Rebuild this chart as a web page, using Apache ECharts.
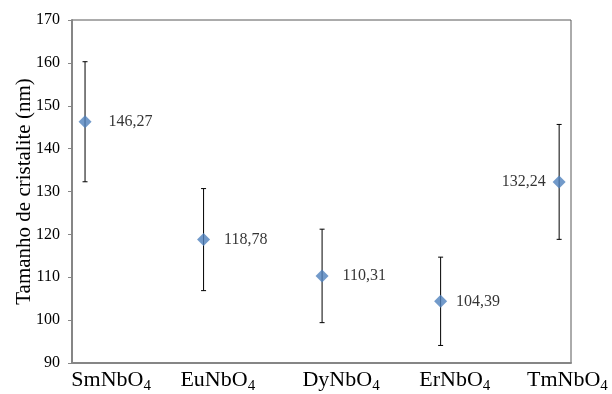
<!DOCTYPE html>
<html>
<head>
<meta charset="utf-8">
<script src="https://cdn.jsdelivr.net/npm/echarts@6/dist/echarts.min.js"></script>
<style>
  html, body { margin: 0; padding: 0; background: #fff; }
  #chart { width: 612px; height: 394px; }
</style>
</head>
<body>
<div id="chart"></div>
<script>
// Crystallite size per niobate sample, with error bar half-widths
const compounds = ['SmNbO', 'EuNbO', 'DyNbO', 'ErNbO', 'TmNbO'];
const crystalliteSize = [146.27, 118.78, 110.31, 104.39, 132.24];
const sizeError = [14.0, 11.9, 10.9, 10.3, 13.4];
const yTicks = [90, 100, 110, 120, 130, 140, 150, 160, 170];

const fontFamily = '"Liberation Serif", "Times New Roman", serif';
const positions = compounds.map((_, i) => i + 1);

// Horizontal nudge of each category caption (in category units)
const captionShift = [0.22, 0.12, 0.16, 0.12, 0.07];
const captionPositions = positions.map((p, i) => p + captionShift[i]);
// Gap between each marker and its value label (px); the last one sits on the left
const valueLabelGap = [17, 14, 14, 9, 7];

const pointData = crystalliteSize.map((v, i) => ({
  value: [positions[i], v],
  label: {
    position: i === compounds.length - 1 ? 'left' : 'right',
    distance: valueLabelGap[i]
  }
}));
const errorData = crystalliteSize.map((v, i) => [positions[i], v - sizeError[i], v + sizeError[i]]);

const chart = echarts.init(document.getElementById('chart'), null, { renderer: 'canvas' });
chart.setOption({
  animation: false,
  backgroundColor: '#fff',
  grid: {
    left: 72, right: 41, top: 20, bottom: 31,
    outerBoundsMode: 'none',
    containLabel: false,
    show: true, borderColor: '#595959', borderWidth: 1, backgroundColor: 'transparent'
  },
  xAxis: {
    type: 'value',
    min: 0.89,
    max: 5.1,
    splitLine: { show: false },
    axisTick: { show: false },
    axisLine: { show: true, lineStyle: { color: '#868686', width: 2 } },
    axisLabel: {
      customValues: captionPositions,
      margin: 5,
      formatter: v => compounds[Math.round(v) - 1] + '{s|4}',
      color: '#000',
      fontFamily: fontFamily,
      fontSize: 22,
      lineHeight: 24,
      rich: {
        s: { fontFamily: fontFamily, fontSize: 15, lineHeight: 15, padding: [13, 0, 0, 0], color: '#000' }
      }
    }
  },
  yAxis: {
    type: 'value',
    min: yTicks[0],
    max: yTicks[yTicks.length - 1],
    interval: 10,
    name: 'Tamanho de cristalite (nm)',
    nameLocation: 'middle',
    nameGap: 37,
    nameMoveOverlap: false,
    nameTextStyle: { fontFamily: fontFamily, fontSize: 21, color: '#000' },
    splitLine: { show: false },
    axisLine: { show: true, lineStyle: { color: '#868686', width: 2 } },
    axisTick: { show: true, length: 4, lineStyle: { color: '#868686', width: 1 } },
    axisLabel: { margin: 12, color: '#000', fontFamily: fontFamily, fontSize: 16 }
  },
  series: [
    {
      type: 'custom',
      z: 1,
      data: errorData,
      renderItem: function (params, api) {
        const x = api.value(0);
        const lo = api.coord([x, api.value(1)]);
        const hi = api.coord([x, api.value(2)]);
        const cap = 2.5;
        const style = { stroke: '#000', lineWidth: 1 };
        return {
          type: 'group',
          children: [
            { type: 'line', shape: { x1: lo[0], y1: lo[1], x2: hi[0], y2: hi[1] }, style: style },
            { type: 'line', shape: { x1: hi[0] - cap, y1: hi[1], x2: hi[0] + cap, y2: hi[1] }, style: style },
            { type: 'line', shape: { x1: lo[0] - cap, y1: lo[1], x2: lo[0] + cap, y2: lo[1] }, style: style }
          ]
        };
      }
    },
    {
      type: 'scatter',
      z: 3,
      symbol: 'diamond',
      symbolSize: 13,
      itemStyle: { color: '#4F81BD' },
      data: pointData,
      label: {
        show: true,
        formatter: p => p.value[1].toFixed(2).replace('.', ','),
        color: '#000',
        fontFamily: fontFamily,
        fontSize: 16
      }
    }
  ]
});
</script>
</body>
</html>
